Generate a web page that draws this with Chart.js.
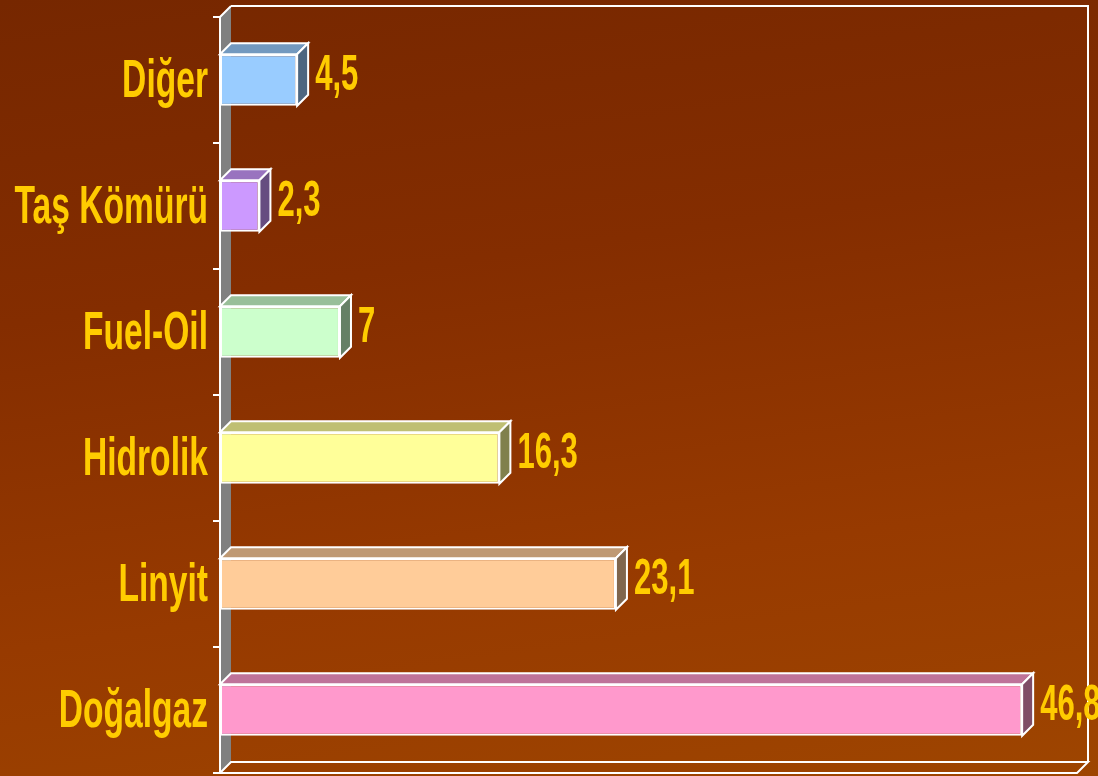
<!DOCTYPE html>
<html>
<head>
<meta charset="utf-8">
<script src="https://cdn.jsdelivr.net/npm/chart.js@4"></script>
<style>
html,body{margin:0;padding:0;}
body{width:1098px;height:776px;overflow:hidden;background:linear-gradient(172deg,#762700 0%,#842d00 35%,#973a00 70%,#9e4500 100%);}
#wrap{position:relative;width:1098px;height:776px;}
</style>
</head>
<body>
<div id="wrap"><canvas id="c" width="1098" height="776"></canvas></div>
<script>
const categories = ['Diğer', 'Taş Kömürü', 'Fuel-Oil', 'Hidrolik', 'Linyit', 'Doğalgaz'];
const values = [4.5, 2.3, 7, 16.3, 23.1, 46.8];
const valueLabels = ['4,5', '2,3', '7', '16,3', '23,1', '46,8'];
const frontColors = ['#99CCFF', '#CC99FF', '#CCFFCC', '#FFFF99', '#FFCC99', '#FF99CC'];
const topColors = ['#7399BF', '#9973BF', '#99BF99', '#BFBF73', '#BF9973', '#BF7399'];
const sideColors = ['#4D6680', '#664D80', '#668066', '#80804D', '#80664D', '#804D66'];
const axisMin = 0;
const axisMax = 50;

const DX = 11, DY = 11;
const TEXT_COLOR = '#FFCC00';
const VSCALE = 1.36;

function fontAvailable(name) {
  const c = document.createElement('canvas').getContext('2d');
  const s = 'Taş Kömürü 0123456789';
  c.font = 'bold 40px monospace';
  const w1 = c.measureText(s).width;
  c.font = 'bold 40px "' + name + '", monospace';
  const w2 = c.measureText(s).width;
  return Math.abs(w1 - w2) > 0.5;
}
const hasNarrow = fontAvailable('Liberation Sans Narrow');
const FAMILY = hasNarrow ? '"Liberation Sans Narrow", "Liberation Sans", sans-serif' : '"Liberation Sans", Arial, sans-serif';
const HSCALE = hasNarrow ? 1.02 : 0.84;

function drawStretchedText(ctx, text, x, yCenter, size, align) {
  ctx.save();
  ctx.font = 'bold ' + size + 'px ' + FAMILY;
  ctx.fillStyle = TEXT_COLOR;
  ctx.textAlign = align;
  ctx.textBaseline = 'alphabetic';
  const cap = 0.716 * size * VSCALE;
  ctx.translate(x, yCenter + cap / 2);
  ctx.scale(HSCALE, VSCALE);
  ctx.fillText(text, 0, 0);
  ctx.restore();
}

const walls = {
  id: 'walls',
  beforeDatasetsDraw(chart) {
    const ctx = chart.ctx;
    const a = chart.chartArea;
    const xs = chart.scales.x;
    const L = xs.getPixelForValue(axisMin), R = xs.getPixelForValue(axisMax);
    const T = a.top, B = a.bottom;
    ctx.save();
    ctx.strokeStyle = '#FFFFFF';
    ctx.lineWidth = 2;
    ctx.lineJoin = 'miter';
    ctx.beginPath();
    ctx.moveTo(L, T); ctx.lineTo(L + DX, T - DY); ctx.lineTo(L + DX, B - DY); ctx.lineTo(L, B); ctx.closePath();
    ctx.fillStyle = '#808080';
    ctx.fill();
    ctx.beginPath();
    ctx.moveTo(L, B); ctx.lineTo(L, T); ctx.lineTo(L + DX, T - DY);
    ctx.stroke();
    ctx.beginPath();
    ctx.moveTo(L + DX, T - DY); ctx.lineTo(R + DX, T - DY); ctx.lineTo(R + DX, B - DY);
    ctx.stroke();
    ctx.beginPath();
    ctx.moveTo(L, B); ctx.lineTo(L + DX, B - DY); ctx.lineTo(R + DX, B - DY); ctx.lineTo(R, B); ctx.closePath();
    ctx.stroke();
    ctx.restore();
  },
  afterDatasetsDraw(chart) {
    const ctx = chart.ctx;
    const meta = chart.getDatasetMeta(0);
    ctx.save();
    ctx.strokeStyle = '#FFFFFF';
    ctx.lineWidth = 2;
    ctx.lineJoin = 'miter';
    meta.data.forEach((bar, i) => {
      const p = bar.getProps(['x', 'y', 'base', 'height'], true);
      const x0 = p.base, x1 = p.x, yT = p.y - p.height / 2, yB = p.y + p.height / 2;
      ctx.beginPath();
      ctx.moveTo(x0, yT); ctx.lineTo(x0 + DX, yT - DY); ctx.lineTo(x1 + DX, yT - DY); ctx.lineTo(x1, yT); ctx.closePath();
      ctx.fillStyle = topColors[i];
      ctx.fill(); ctx.stroke();
      ctx.beginPath();
      ctx.moveTo(x1, yT); ctx.lineTo(x1 + DX, yT - DY); ctx.lineTo(x1 + DX, yB - DY); ctx.lineTo(x1, yB); ctx.closePath();
      ctx.fillStyle = sideColors[i];
      ctx.fill(); ctx.stroke();
      drawStretchedText(ctx, valueLabels[i], x1 + DX + 7, p.y - DY / 2 - 3, 37, 'left');
    });
    ctx.restore();
  },
  afterDraw(chart) {
    const ctx = chart.ctx;
    const ys = chart.scales.y;
    const L = chart.chartArea.left;
    categories.forEach((c, i) => {
      drawStretchedText(ctx, c, L - 12, ys.getPixelForValue(i) - 2, 40, 'right');
    });
  }
};

new Chart(document.getElementById('c'), {
  type: 'bar',
  data: {
    labels: categories,
    datasets: [{
      data: values,
      backgroundColor: frontColors,
      borderColor: '#FFFFFF',
      borderWidth: 2,
      borderSkipped: false,
      barPercentage: 0.41,
      categoryPercentage: 1
    }]
  },
  options: {
    indexAxis: 'y',
    responsive: false,
    animation: false,
    devicePixelRatio: 1,
    layout: { padding: { left: 0, top: 17, right: 21, bottom: 3 } },
    plugins: { legend: { display: false }, tooltip: { enabled: false } },
    scales: {
      x: { display: false, min: axisMin, max: axisMax },
      y: {
        display: true,
        afterFit(scale) { scale.width = 220; },
        border: { display: false },
        grid: { offset: true, drawOnChartArea: false, drawTicks: true, tickLength: 7, color: '#FFFFFF', lineWidth: 2 },
        ticks: { display: false }
      }
    }
  },
  plugins: [walls]
});
</script>
</body>
</html>
